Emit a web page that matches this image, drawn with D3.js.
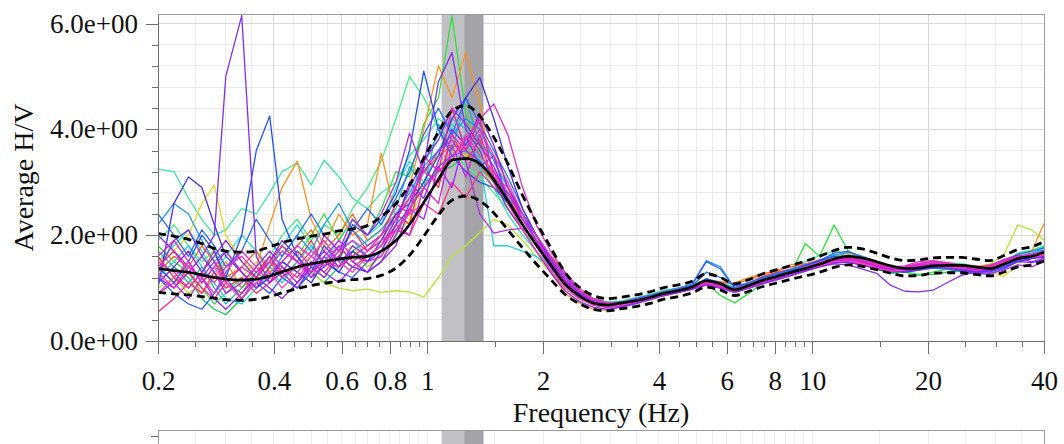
<!DOCTYPE html>
<html lang="en">
<head>
<meta charset="utf-8" />
<title>Average H/V</title>
<style>
    body { margin: 0; background: #fff; }
    svg { display: block; font-family: "Liberation Serif", "Times New Roman", serif; }
    .axis { font-family: "Liberation Serif", "Times New Roman", serif; }
    .axis text { font-size: 27px; fill: #111; }
    .axis path, .axis line { stroke: #6e6e6e; shape-rendering: crispEdges; }
    .grid line { stroke: #ebebeb; shape-rendering: crispEdges; }
    .grid line.major { stroke: #d9d9d9; }
    .label { font-size: 28px; fill: #111; }
</style>
</head>
<body>
<div id="graph"></div>
<script src="https://d3js.org/d3.v7.min.js"></script>
<script>
    // frequencies (Hz) of the H/V samples
    var freq = [0.2, 0.22, 0.24, 0.26, 0.28, 0.3, 0.33, 0.36, 0.39, 0.42, 0.46, 0.5, 0.54, 0.59, 0.64, 0.7,
                0.76, 0.83, 0.9, 0.98, 1.07, 1.16, 1.26, 1.37, 1.49, 1.62, 1.77, 1.92,
                2.09, 2.28, 2.48, 2.7, 2.94, 3.2, 3.48, 3.79, 4.12, 4.49, 4.88,
                5.31, 5.78, 6.29, 6.85, 7.45, 8.11, 8.83, 9.6, 10.45, 11.4, 12.4, 13.5, 14.7, 16, 17.4,
                18.9, 20.6, 22.4, 24.4, 26.5, 28.9, 31.4, 34.2, 37.2, 40];

    var meanHV = [1.37, 1.33, 1.30, 1.25, 1.20, 1.17, 1.15, 1.17, 1.23, 1.31, 1.40, 1.46, 1.50, 1.55, 1.58, 1.60,
                  1.70, 1.90, 2.20, 2.62, 3.05, 3.42, 3.45, 3.35, 3.05, 2.65, 2.20, 1.82,
                  1.45, 1.08, 0.86, 0.72, 0.68, 0.72, 0.76, 0.82, 0.90, 0.95, 1.02,
                  1.14, 1.08, 0.97, 1.05, 1.15, 1.22, 1.30, 1.37, 1.45, 1.55, 1.60, 1.57, 1.50, 1.42, 1.37,
                  1.38, 1.42, 1.43, 1.43, 1.40, 1.37, 1.45, 1.56, 1.60, 1.68];
    var upperHV = [2.03, 1.98, 1.92, 1.84, 1.75, 1.70, 1.68, 1.70, 1.78, 1.86, 1.93, 1.98, 2.02, 2.08, 2.12, 2.18,
                   2.35, 2.60, 2.95, 3.45, 3.95, 4.35, 4.45, 4.25, 3.85, 3.35, 2.75, 2.25,
                   1.78, 1.30, 1.02, 0.86, 0.80, 0.83, 0.87, 0.93, 1.01, 1.06, 1.13,
                   1.27, 1.20, 1.08, 1.16, 1.27, 1.35, 1.43, 1.51, 1.60, 1.71, 1.77, 1.74, 1.66, 1.57, 1.52,
                   1.53, 1.57, 1.58, 1.58, 1.55, 1.52, 1.61, 1.73, 1.78, 1.88];
    var lowerHV = [0.92, 0.89, 0.87, 0.84, 0.81, 0.78, 0.77, 0.79, 0.84, 0.91, 0.99, 1.05, 1.09, 1.13, 1.16, 1.18,
                   1.24, 1.38, 1.62, 1.98, 2.38, 2.66, 2.74, 2.65, 2.42, 2.10, 1.76, 1.46,
                   1.17, 0.88, 0.71, 0.60, 0.57, 0.61, 0.65, 0.71, 0.79, 0.84, 0.91,
                   1.02, 0.96, 0.86, 0.94, 1.03, 1.10, 1.17, 1.23, 1.30, 1.39, 1.44, 1.41, 1.35, 1.28, 1.23,
                   1.24, 1.28, 1.29, 1.29, 1.26, 1.23, 1.30, 1.40, 1.44, 1.51];

    // individual time windows
    var winA = [1.6, 1.2, 1.0, 1.3, 1.7, 1.1, 0.9, 1.3, 1.6, 1.2, 1.5, 1.9, 1.4, 1.6, 2.1, 1.7,
                1.9, 2.4, 2.2, 3.3, 2.9, 3.9, 3.4, 3.8, 3.0, 2.8, 2.3, 1.9,
                1.5, 1.15, 0.95, 0.8, 0.72, 0.74, 0.8, 0.85, 0.92, 0.98, 1.05,
                1.1, 1.05, 1.0, 1.1, 1.22, 1.3, 1.36, 1.42, 1.5, 1.56, 1.62, 1.55, 1.48, 1.4, 1.35,
                1.36, 1.4, 1.45, 1.44, 1.42, 1.38, 1.42, 1.52, 1.58, 1.62];
    var winB = [1.4, 1.1, 1.3, 0.9, 1.2, 1.5, 1.0, 1.4, 2.2, 2.9, 3.4, 2.3, 1.8, 2.4, 2.0, 2.2,
                3.55, 2.3, 2.9, 4.0, 5.2, 4.6, 5.45, 4.5, 3.0, 2.5, 2.1, 1.7,
                1.3, 0.9, 0.72, 0.6, 0.58, 0.66, 0.72, 0.8, 0.88, 0.95, 1.0,
                1.08, 1.1, 1.1, 1.2, 1.28, 1.32, 1.45, 1.44, 1.5, 1.6, 1.66, 1.6, 1.5, 1.38, 1.34,
                1.36, 1.42, 1.45, 1.42, 1.38, 1.45, 1.5, 1.55, 1.7, 2.22];
    var winC = [1.5, 1.7, 2.0, 2.6, 2.95, 2.0, 1.5, 1.3, 1.5, 1.3, 1.7, 1.5, 1.2, 1.6, 1.8, 1.4,
                1.6, 2.0, 2.3, 2.9, 3.3, 3.6, 3.5, 3.7, 3.6, 2.9, 2.4, 1.9,
                1.5, 1.1, 0.85, 0.7, 0.64, 0.7, 0.78, 0.84, 0.9, 0.96, 1.02,
                1.12, 1.06, 0.98, 1.06, 1.16, 1.24, 1.3, 1.4, 1.48, 1.6, 1.62, 1.58, 1.46, 1.36, 1.34,
                1.4, 1.48, 1.45, 1.4, 1.36, 1.3, 1.22, 1.45, 1.6, 1.7];
    var winD = [1.0, 1.2, 0.9, 1.1, 1.3, 1.0, 1.2, 1.5, 1.1, 1.4, 1.2, 1.3, 1.1, 1.0, 0.95, 0.98,
                0.92, 0.95, 0.93, 0.83, 1.2, 1.6, 1.8, 2.05, 2.3, 2.2, 1.9, 1.6,
                1.3, 1.0, 0.82, 0.7, 0.66, 0.7, 0.75, 0.82, 0.9, 0.96, 1.04,
                1.12, 1.04, 0.95, 1.04, 1.14, 1.22, 1.28, 1.4, 1.5, 1.56, 1.6, 1.55, 1.48, 1.4, 1.36,
                1.45, 1.5, 1.48, 1.42, 1.38, 1.45, 1.62, 2.19, 2.1, 1.9];
    var winE = [1.8, 1.5, 1.3, 1.0, 0.7, 0.9, 1.2, 1.0, 1.4, 1.8, 1.6, 2.0, 2.4, 1.9, 2.3, 2.0,
                2.5, 3.2, 3.1, 4.1, 4.6, 6.15, 4.3, 3.5, 3.2, 2.7, 2.1, 1.7,
                1.35, 1.0, 0.8, 0.68, 0.63, 0.7, 0.76, 0.8, 0.88, 0.94, 1.0,
                1.1, 0.86, 0.72, 0.9, 1.1, 1.2, 1.3, 1.84, 1.6, 2.19, 1.7, 1.52, 1.4, 1.32, 1.3,
                1.24, 1.3, 1.36, 1.3, 1.28, 1.35, 1.5, 1.6, 1.58, 1.66];
    var winF = [3.25, 3.2, 2.7, 2.3, 2.0, 2.1, 2.5, 2.4, 2.8, 3.2, 3.36, 2.95, 3.42, 3.1, 2.7, 2.5,
                2.8, 3.0, 3.5, 3.8, 4.2, 4.0, 3.7, 3.5, 3.1, 2.8, 2.3, 1.9,
                1.55, 1.2, 0.95, 0.8, 0.74, 0.76, 0.82, 0.88, 0.96, 1.0, 1.06,
                1.16, 1.12, 1.02, 1.1, 1.2, 1.28, 1.36, 1.5, 1.62, 1.7, 1.64, 1.56, 1.48, 1.4, 1.36,
                1.42, 1.5, 1.48, 1.46, 1.42, 1.4, 1.48, 1.62, 1.7, 1.8];
    var winG = [1.2, 1.5, 1.8, 1.4, 1.1, 0.8, 0.7, 1.0, 1.3, 1.1, 1.5, 1.8, 1.4, 1.7, 1.9, 1.6,
                1.8, 2.3, 2.7, 3.4, 3.9, 4.2, 4.0, 3.4, 1.8, 1.8, 1.7, 1.6,
                1.4, 1.1, 0.9, 0.75, 0.7, 0.72, 0.78, 0.84, 0.9, 0.98, 1.04,
                1.12, 1.1, 1.0, 1.08, 1.18, 1.26, 1.34, 1.42, 1.5, 1.64, 1.6, 1.52, 1.44, 1.36, 1.32,
                1.36, 1.42, 1.42, 1.38, 1.34, 1.36, 1.46, 1.58, 1.62, 1.76];
    var winH = [2.2, 2.6, 2.4, 1.9, 1.5, 1.7, 1.3, 1.0, 1.2, 1.6, 2.0, 1.7, 2.2, 2.6, 2.1, 1.8,
                2.0, 2.4, 2.8, 3.3, 3.6, 3.9, 4.2, 4.0, 3.4, 2.9, 2.4, 2.0,
                1.6, 1.25, 0.95, 0.78, 0.72, 0.74, 0.8, 0.86, 0.94, 1.0, 1.08,
                1.52, 1.4, 1.0, 1.08, 1.18, 1.26, 1.34, 1.4, 1.5, 1.62, 1.68, 1.6, 1.5, 1.42, 1.38,
                1.4, 1.44, 1.42, 1.4, 1.36, 1.4, 1.5, 1.6, 1.66, 1.72];
    var winI = [1.4, 1.1, 1.5, 2.0, 1.7, 1.2, 2.0, 3.6, 4.25, 2.3, 1.6, 1.3, 1.8, 1.5, 2.2, 2.0,
                2.3, 2.8, 3.6, 5.1, 4.0, 3.5, 3.2, 3.0, 2.9, 2.6, 2.2, 1.8,
                1.45, 1.1, 0.88, 0.74, 0.68, 0.7, 0.76, 0.82, 0.9, 0.96, 1.02,
                1.18, 1.1, 0.98, 1.06, 1.16, 1.24, 1.32, 1.42, 1.52, 1.6, 1.56, 1.5, 1.42, 1.34, 1.3,
                1.34, 1.38, 1.4, 1.36, 1.32, 1.3, 1.38, 1.5, 1.56, 1.62];
    var winJ = [1.0, 2.6, 3.1, 2.9, 2.2, 1.6, 1.3, 1.0, 1.2, 1.5, 1.3, 1.1, 1.5, 1.3, 1.7, 1.5,
                1.9, 2.4, 2.6, 3.0, 3.5, 4.2, 4.6, 4.98, 4.2, 3.3, 2.5, 2.0,
                1.5, 1.1, 0.85, 0.7, 0.64, 0.66, 0.72, 0.78, 0.86, 0.92, 0.98,
                1.08, 1.02, 0.94, 1.0, 1.1, 1.18, 1.26, 1.34, 1.42, 1.5, 1.48, 1.44, 1.36, 1.3, 1.32,
                1.36, 1.4, 1.4, 1.36, 1.3, 1.34, 1.44, 1.52, 1.56, 1.6];
    var winK = [1.3, 1.9, 2.1, 1.6, 2.0, 5.0, 6.15, 1.6, 1.1, 1.3, 1.0, 1.4, 1.2, 1.6, 1.4, 1.3,
                1.5, 2.0, 2.6, 3.3, 4.9, 5.45, 4.0, 3.6, 3.0, 2.5, 2.1, 1.7,
                1.3, 0.95, 0.75, 0.64, 0.6, 0.64, 0.7, 0.78, 0.86, 0.92, 0.98,
                1.06, 1.0, 0.92, 1.0, 1.1, 1.16, 1.24, 1.32, 1.4, 1.46, 1.44, 1.36, 1.28, 1.05, 0.94,
                0.93, 0.96, 1.1, 1.24, 1.3, 1.36, 1.48, 1.58, 1.62, 1.66];
    var winL = [0.9, 1.1, 0.8, 1.2, 1.5, 1.1, 0.8, 1.2, 1.6, 1.3, 1.7, 1.4, 2.0, 1.7, 2.3, 2.0,
                2.4, 3.0, 3.93, 3.2, 3.6, 3.8, 3.4, 2.4, 2.04, 2.1, 2.13, 1.9,
                1.6, 1.25, 0.95, 0.76, 0.68, 0.7, 0.76, 0.82, 0.88, 0.94, 1.0,
                1.08, 1.04, 0.96, 1.04, 1.12, 1.2, 1.28, 1.36, 1.44, 1.52, 1.5, 1.44, 1.38, 1.32, 1.36,
                1.4, 1.44, 1.4, 1.36, 1.3, 1.28, 1.34, 1.44, 1.4, 1.5];
    var winM = [1.5, 1.3, 1.0, 1.3, 1.1, 1.4, 1.6, 1.3, 1.5, 1.2, 1.4, 1.7, 1.5, 1.8, 1.5, 1.7,
                1.9, 2.1, 2.5, 2.9, 3.2, 3.5, 3.8, 4.2, 4.48, 3.9, 2.9, 2.2,
                1.7, 1.3, 1.0, 0.8, 0.72, 0.72, 0.76, 0.82, 0.9, 0.96, 1.02,
                1.1, 1.04, 0.96, 1.02, 1.12, 1.2, 1.28, 1.38, 1.48, 1.56, 1.6, 1.54, 1.46, 1.4, 1.42,
                1.5, 1.52, 1.48, 1.44, 1.38, 1.42, 1.52, 1.6, 1.62, 1.66];
    var winN = [0.55, 0.8, 1.1, 0.9, 1.3, 1.0, 1.2, 0.9, 1.1, 1.4, 1.2, 1.5, 1.3, 1.6, 1.4, 1.6,
                1.8, 2.2, 2.0, 2.6, 2.4, 3.0, 2.7, 3.2, 2.9, 2.7, 2.2, 1.8,
                1.4, 1.05, 0.84, 0.7, 0.66, 0.68, 0.74, 0.8, 0.88, 0.94, 1.0,
                1.1, 1.06, 0.98, 1.06, 1.16, 1.22, 1.3, 1.36, 1.42, 1.5, 1.52, 1.48, 1.4, 1.34, 1.36,
                1.4, 1.42, 1.42, 1.4, 1.36, 1.4, 1.5, 1.58, 1.6, 1.64];
    var winO = [1.2, 0.9, 0.7, 0.6, 0.9, 1.2, 0.8, 1.1, 0.9, 1.2, 1.0, 1.3, 1.6, 1.3, 1.2, 1.5,
                1.7, 2.2, 2.5, 2.9, 3.3, 3.5, 3.6, 3.4, 3.1, 2.8, 2.4, 1.9,
                1.5, 1.15, 0.92, 0.76, 0.7, 0.72, 0.8, 0.86, 0.92, 0.98, 1.06,
                1.5, 1.36, 1.0, 1.1, 1.2, 1.26, 1.32, 1.38, 1.46, 1.56, 1.62, 1.54, 1.44, 1.36, 1.32,
                1.34, 1.38, 1.36, 1.32, 1.28, 1.26, 1.36, 1.5, 1.56, 1.58];
    var winP = [2.0, 1.7, 1.4, 1.2, 0.8, 0.6, 0.9, 1.2, 1.0, 0.8, 1.1, 1.4, 1.7, 1.4, 1.8, 1.6,
                1.8, 2.3, 2.9, 3.4, 3.8, 4.4, 4.1, 3.7, 3.3, 2.7, 2.2, 1.8,
                1.4, 1.05, 0.82, 0.68, 0.64, 0.68, 0.74, 0.8, 0.86, 0.92, 0.98,
                1.06, 1.02, 0.94, 1.02, 1.1, 1.18, 1.26, 1.34, 1.44, 1.5, 1.56, 1.5, 1.42, 1.36, 1.4,
                1.46, 1.5, 1.46, 1.42, 1.38, 1.42, 1.54, 1.62, 1.6, 1.58];
    var winQ = [1.6, 1.9, 1.5, 1.1, 1.4, 1.7, 1.3, 1.0, 1.4, 1.7, 1.5, 1.2, 1.6, 1.9, 1.6, 1.5,
                1.6, 2.1, 2.0, 2.9, 2.6, 3.7, 3.1, 3.9, 3.2, 2.8, 2.3, 1.9,
                1.5, 1.12, 0.88, 0.72, 0.66, 0.7, 0.76, 0.82, 0.88, 0.94, 1.0,
                1.08, 1.02, 0.94, 1.02, 1.12, 1.2, 1.28, 1.36, 1.44, 1.52, 1.54, 1.5, 1.42, 1.36, 1.36,
                1.42, 1.46, 1.44, 1.4, 1.34, 1.36, 1.46, 1.56, 1.6, 1.66];
    var winR = [1.1, 1.4, 1.2, 0.8, 0.6, 0.5, 0.8, 1.1, 1.4, 1.2, 1.0, 1.3, 1.1, 1.4, 1.7, 1.4,
                1.6, 2.0, 2.5, 3.0, 3.2, 3.3, 3.5, 3.3, 3.0, 2.6, 2.2, 1.8,
                1.45, 1.1, 0.88, 0.74, 0.68, 0.7, 0.76, 0.82, 0.88, 0.94, 1.0,
                1.12, 1.06, 0.98, 1.04, 1.12, 1.2, 1.28, 1.36, 1.42, 1.5, 1.56, 1.48, 1.36, 1.28, 1.3,
                1.26, 1.26, 1.3, 1.32, 1.3, 1.34, 1.44, 1.56, 1.62, 1.7];
    var winS = [1.3, 1.6, 1.4, 1.8, 1.5, 1.2, 1.4, 1.7, 1.3, 1.5, 1.8, 2.1, 1.7, 2.0, 2.4, 1.9,
                2.1, 2.4, 2.7, 3.2, 3.5, 3.7, 3.6, 3.3, 3.0, 2.7, 2.3, 2.0,
                1.62, 1.3, 0.96, 0.8, 0.72, 0.72, 0.78, 0.86, 0.94, 1.0, 1.06,
                1.14, 1.12, 1.08, 1.16, 1.26, 1.34, 1.4, 1.46, 1.54, 1.6, 1.58, 1.54, 1.46, 1.4, 1.36,
                1.38, 1.42, 1.44, 1.42, 1.4, 1.44, 1.5, 1.56, 1.6, 1.64];
    var winT = [1.7, 1.4, 1.1, 1.4, 1.0, 0.7, 1.0, 1.3, 1.1, 1.5, 1.3, 1.6, 1.9, 1.5, 1.7, 1.9,
                2.1, 2.5, 3.3, 2.9, 4.1, 3.6, 4.6, 3.7, 3.5, 2.7, 2.4, 1.9,
                1.5, 1.15, 0.9, 0.74, 0.68, 0.72, 0.78, 0.84, 0.9, 0.96, 1.02,
                1.14, 1.08, 0.96, 1.04, 1.14, 1.22, 1.3, 1.38, 1.46, 1.56, 1.6, 1.52, 1.44, 1.38, 1.36,
                1.38, 1.42, 1.4, 1.38, 1.32, 1.34, 1.42, 1.52, 1.58, 1.6];
    var winU = [1.2, 1.0, 1.3, 1.6, 1.3, 0.9, 1.1, 1.4, 1.7, 1.4, 1.1, 1.5, 1.3, 1.1, 1.4, 1.3,
                1.5, 1.8, 2.5, 2.3, 3.3, 2.9, 3.9, 3.3, 3.5, 2.6, 2.3, 1.9,
                1.4, 1.05, 0.84, 0.7, 0.64, 0.66, 0.72, 0.78, 0.86, 0.92, 0.98,
                1.06, 1.0, 0.92, 1.0, 1.08, 1.16, 1.24, 1.32, 1.4, 1.48, 1.5, 1.44, 1.38, 1.32, 1.34,
                1.4, 1.44, 1.4, 1.34, 1.3, 1.38, 1.48, 1.56, 1.5, 1.56];
    var winV = [1.4, 1.7, 1.3, 1.0, 0.8, 1.1, 1.4, 1.2, 1.5, 1.8, 1.5, 1.3, 1.5, 1.4, 1.6, 1.8,
                2.0, 2.6, 2.4, 3.5, 3.2, 4.4, 3.6, 4.2, 3.1, 2.9, 2.3, 1.9,
                1.5, 1.12, 0.88, 0.72, 0.68, 0.7, 0.76, 0.82, 0.9, 0.96, 1.02,
                1.1, 1.04, 0.96, 1.04, 1.14, 1.22, 1.3, 1.38, 1.46, 1.54, 1.56, 1.5, 1.42, 1.36, 1.38,
                1.44, 1.46, 1.44, 1.42, 1.38, 1.4, 1.5, 1.6, 1.62, 1.68];
    var winW = [1.9, 2.2, 1.8, 1.5, 1.7, 1.3, 1.0, 1.3, 1.6, 2.0, 2.3, 1.9, 2.2, 2.0, 2.5, 2.9,
                3.4, 4.2, 5.0, 4.6, 4.0, 3.6, 3.3, 3.1, 2.8, 2.5, 2.1, 1.8,
                1.45, 1.1, 0.86, 0.72, 0.68, 0.72, 0.78, 0.84, 0.9, 0.96, 1.02,
                1.12, 1.08, 1.0, 1.06, 1.16, 1.24, 1.3, 1.38, 1.46, 1.54, 1.58, 1.5, 1.42, 1.36, 1.38,
                1.42, 1.42, 1.38, 1.34, 1.3, 1.36, 1.5, 1.66, 1.72, 1.8];
    var winX = [2.4, 2.0, 1.6, 2.1, 1.8, 1.4, 1.7, 2.3, 1.9, 1.6, 2.0, 2.4, 2.0, 1.7, 2.1, 2.5,
                2.2, 2.7, 3.2, 3.9, 4.4, 3.9, 4.6, 4.1, 3.6, 3.1, 2.5, 2.0,
                1.6, 1.2, 0.92, 0.76, 0.7, 0.72, 0.78, 0.84, 0.92, 0.98, 1.04,
                1.3, 1.2, 1.04, 1.1, 1.2, 1.28, 1.36, 1.44, 1.52, 1.66, 1.7, 1.58, 1.46, 1.38, 1.34,
                1.38, 1.44, 1.44, 1.4, 1.36, 1.38, 1.5, 1.64, 1.7, 1.76];
    var winY = [1.1, 1.4, 1.7, 1.3, 1.6, 1.9, 1.5, 1.2, 1.5, 1.9, 1.6, 1.2, 1.4, 1.8, 1.5, 1.3,
                1.7, 2.2, 3.0, 2.7, 3.4, 4.0, 3.7, 4.3, 3.7, 2.9, 2.4, 2.0,
                1.55, 1.15, 0.9, 0.74, 0.68, 0.7, 0.76, 0.82, 0.88, 0.94, 1.0,
                1.08, 1.04, 0.95, 1.02, 1.12, 1.2, 1.3, 1.38, 1.46, 1.54, 1.56, 1.5, 1.42, 1.34, 1.3,
                1.34, 1.4, 1.38, 1.34, 1.3, 1.32, 1.4, 1.5, 1.48, 1.54];
    var winZ = [1.3, 1.0, 1.4, 1.2, 0.9, 1.3, 1.7, 1.4, 1.1, 1.5, 1.8, 1.6, 1.4, 1.7, 1.9, 1.7,
                2.0, 2.3, 2.7, 3.2, 3.0, 3.9, 3.6, 4.0, 3.5, 3.0, 2.4, 2.0,
                1.6, 1.2, 0.94, 0.76, 0.7, 0.72, 0.78, 0.84, 0.9, 0.96, 1.02,
                1.12, 1.06, 0.98, 1.04, 1.14, 1.22, 1.3, 1.4, 1.48, 1.56, 1.58, 1.52, 1.44, 1.38, 1.4,
                1.46, 1.5, 1.46, 1.42, 1.36, 1.4, 1.52, 1.6, 1.64, 1.7];
    var winAA = [0.9, 1.2, 1.5, 1.1, 1.4, 1.1, 0.8, 1.1, 1.3, 1.0, 1.3, 1.6, 1.9, 1.5, 1.3, 1.6,
                 1.8, 2.1, 2.4, 2.6, 3.1, 3.4, 3.9, 3.5, 3.2, 2.6, 2.1, 1.7,
                 1.35, 1.0, 0.8, 0.68, 0.64, 0.68, 0.74, 0.8, 0.88, 0.94, 1.0,
                 1.08, 1.02, 0.94, 1.02, 1.12, 1.2, 1.28, 1.36, 1.42, 1.5, 1.52, 1.46, 1.38, 1.32, 1.34,
                 1.38, 1.42, 1.4, 1.38, 1.34, 1.38, 1.48, 1.56, 1.58, 1.62];
    var winAB = [1.5, 1.8, 2.1, 1.7, 1.3, 1.6, 2.0, 1.7, 1.4, 1.8, 2.2, 1.8, 1.5, 1.9, 2.3, 2.0,
                 2.2, 2.9, 3.4, 3.0, 3.6, 4.1, 3.8, 3.3, 2.9, 2.4, 2.0, 1.7,
                 1.4, 1.08, 0.86, 0.72, 0.68, 0.7, 0.76, 0.82, 0.9, 0.96, 1.02,
                 1.14, 1.08, 1.0, 1.08, 1.18, 1.26, 1.34, 1.42, 1.5, 1.6, 1.62, 1.54, 1.46, 1.4, 1.38,
                 1.4, 1.44, 1.42, 1.4, 1.36, 1.38, 1.46, 1.58, 1.64, 1.78];

    // drawing order: magenta/purple windows end up on top
    var windows = [winF, winW, winAB, winR, winE, winD, winC, winB, winS, winA, winG, winT, winH,
                   winO, winX, winI, winJ, winN, winL, winU, winY, winP, winK, winV, winAA, winZ, winQ, winM];
    var windowColors = ["#40e8a0", "#40f080", "#28e0c0", "#20c860", "#30e040", "#b0e830", "#e8d820", "#ff9020",
                        "#ff6020", "#ff3030", "#20d0e0", "#20b0c0", "#2098f0", "#3060ff", "#2a6af0", "#2050f0",
                        "#4030e0", "#ff3080", "#b030e0", "#a020ff", "#7a28f0", "#9020f0", "#8030e8", "#f020a0",
                        "#ff40b0", "#e828d0", "#d020e0", "#e030c0"];

    // peak frequency band (f0 - std, f0, f0 + std)
    var peakLow = 1.09, peakF0 = 1.25, peakHigh = 1.40;

    var xMajor = [0.2, 0.4, 0.6, 0.8, 1, 2, 4, 6, 8, 10, 20, 40];
    var xMinor = [0.25, 0.3, 0.35, 0.45, 0.5, 0.55, 0.65, 0.7, 0.75, 0.85, 0.9, 0.95, 1.5,
                  2.5, 3, 3.5, 4.5, 5, 5.5, 6.5, 7, 7.5, 8.5, 9, 9.5, 15, 25, 30, 35];
    var yMajor = [0, 2, 4, 6];
    var yMinor = [0.4, 0.8, 1.2, 1.6, 2.4, 2.8, 3.2, 3.6, 4.4, 4.8, 5.2, 5.6];

    var W = 1064, H = 444;
    var margin = { top: 14, right: 20, bottom: 103, left: 158 },
        width = W - margin.left - margin.right,
        height = H - margin.top - margin.bottom;

    var x = d3.scaleLog().domain([0.2, 40]).range([0, width]);
    var y = d3.scaleLinear().domain([0, 6.18]).range([height, 0]);

    var svg = d3.select("#graph").append("svg")
        .attr("width", W)
        .attr("height", H);

    var g = svg.append("g")
        .attr("transform", "translate(" + margin.left + "," + margin.top + ")");

    g.append("clipPath").attr("id", "plotClip")
        .append("rect").attr("width", width).attr("height", height);

    // grid
    var grid = g.append("g").attr("class", "grid");
    grid.selectAll("line.vmin").data(xMinor).enter().append("line")
        .attr("x1", function (d) { return x(d); }).attr("x2", function (d) { return x(d); })
        .attr("y1", 0).attr("y2", height);
    grid.selectAll("line.hmin").data(yMinor).enter().append("line")
        .attr("x1", 0).attr("x2", width)
        .attr("y1", function (d) { return y(d); }).attr("y2", function (d) { return y(d); });
    grid.selectAll("line.vmaj").data(xMajor).enter().append("line").attr("class", "major")
        .attr("x1", function (d) { return x(d); }).attr("x2", function (d) { return x(d); })
        .attr("y1", 0).attr("y2", height);
    grid.selectAll("line.hmaj").data(yMajor).enter().append("line").attr("class", "major")
        .attr("x1", 0).attr("x2", width)
        .attr("y1", function (d) { return y(d); }).attr("y2", function (d) { return y(d); });

    // peak band
    g.append("rect")
        .attr("x", x(peakLow)).attr("width", x(peakHigh) - x(peakLow))
        .attr("y", 0).attr("height", height)
        .attr("fill", "#c1c1c5");
    g.append("rect")
        .attr("x", x(peakF0)).attr("width", x(peakHigh) - x(peakF0))
        .attr("y", 0).attr("height", height)
        .attr("fill", "#a4a4a8");

    var plot = g.append("g").attr("clip-path", "url(#plotClip)");

    var lineFunc = d3.line()
        .x(function (d, i) { return x(freq[i]); })
        .y(function (d) { return y(d); });

    plot.selectAll("path.win").data(windows).enter().append("path")
        .attr("class", "win")
        .attr("d", lineFunc)
        .attr("fill", "none")
        .attr("stroke", function (d, i) { return windowColors[i]; })
        .attr("stroke-width", 1.3)
        .attr("stroke-linejoin", "round");

    var smoothLine = d3.line()
        .x(function (d, i) { return x(freq[i]); })
        .y(function (d) { return y(d); })
        .curve(d3.curveMonotoneX);

    plot.append("path").attr("d", smoothLine(upperHV))
        .attr("fill", "none").attr("stroke", "#000").attr("stroke-width", 2.8)
        .attr("stroke-dasharray", "8,5");
    plot.append("path").attr("d", smoothLine(lowerHV))
        .attr("fill", "none").attr("stroke", "#000").attr("stroke-width", 2.8)
        .attr("stroke-dasharray", "8,5");
    plot.append("path").attr("d", smoothLine(meanHV))
        .attr("fill", "none").attr("stroke", "#000").attr("stroke-width", 2.6);

    // frame
    g.append("rect").attr("width", width).attr("height", height)
        .attr("fill", "none").attr("stroke", "#9c9c9c").attr("shape-rendering", "crispEdges");

    // axes
    function sci(v) {
        return v.toExponential(1).replace(/e([+-])(\d)$/, function (m, s, e) { return "e" + s + "0" + e; });
    }

    g.append("g").attr("class", "x axis")
        .attr("transform", "translate(0," + height + ")")
        .call(d3.axisBottom(x).tickValues(xMinor).tickSize(6).tickFormat(""))
        .select(".domain").remove();
    g.append("g").attr("class", "x axis")
        .attr("transform", "translate(0," + height + ")")
        .call(d3.axisBottom(x).tickValues(xMajor).tickSize(13).tickSizeOuter(0).tickPadding(17)
            .tickFormat(function (d) { return String(d); }));

    g.append("g").attr("class", "y axis")
        .call(d3.axisLeft(y).tickValues(yMinor).tickSize(6).tickFormat(""))
        .select(".domain").remove();
    g.append("g").attr("class", "y axis")
        .call(d3.axisLeft(y).tickValues(yMajor).tickSize(12).tickSizeOuter(0).tickPadding(8).tickFormat(sci));

    svg.append("text").attr("class", "label")
        .attr("x", margin.left + width / 2).attr("y", 422)
        .attr("text-anchor", "middle")
        .text("Frequency (Hz)");

    svg.append("text").attr("class", "label")
        .attr("transform", "translate(33," + (margin.top + height / 2) + ") rotate(-90)")
        .attr("text-anchor", "middle")
        .text("Average H/V");

    // top edge of the next panel, cut off by the picture
    var g2 = svg.append("g").attr("transform", "translate(" + margin.left + ",430)");
    g2.selectAll("line.v").data(xMinor.concat(xMajor)).enter().append("line")
        .attr("x1", function (d) { return x(d); }).attr("x2", function (d) { return x(d); })
        .attr("y1", 0).attr("y2", 20)
        .attr("stroke", "#ebebeb").attr("shape-rendering", "crispEdges");
    g2.append("rect")
        .attr("x", x(peakLow)).attr("width", x(peakHigh) - x(peakLow))
        .attr("y", 0).attr("height", 20).attr("fill", "#c1c1c5");
    g2.append("rect")
        .attr("x", x(peakF0)).attr("width", x(peakHigh) - x(peakF0))
        .attr("y", 0).attr("height", 20).attr("fill", "#a4a4a8");
    g2.append("rect").attr("width", width).attr("height", 40)
        .attr("fill", "none").attr("stroke", "#9c9c9c").attr("shape-rendering", "crispEdges");
    g2.append("line").attr("x1", -7).attr("x2", 0).attr("y1", 6).attr("y2", 6)
        .attr("stroke", "#6e6e6e").attr("shape-rendering", "crispEdges");
</script>
</body>
</html>
